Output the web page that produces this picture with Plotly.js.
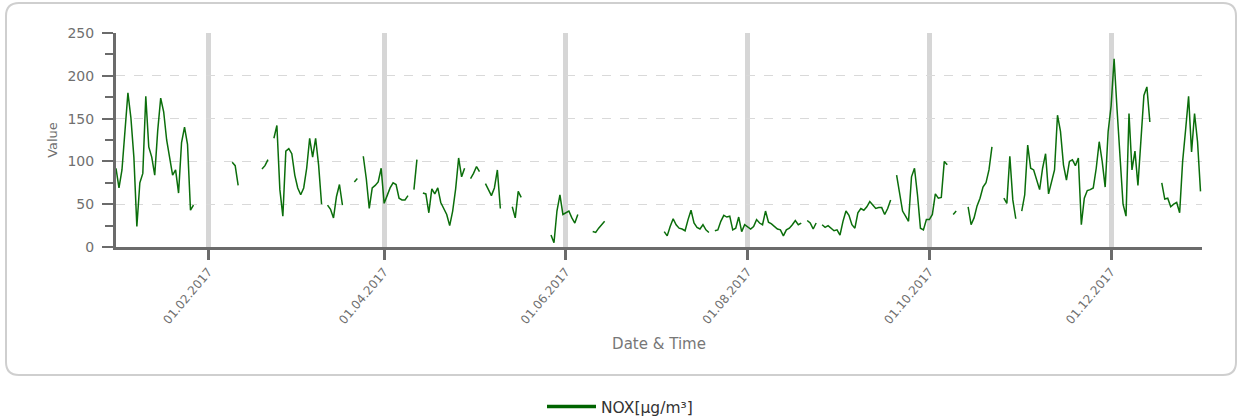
<!DOCTYPE html>
<html>
<head>
<meta charset="utf-8">
<script src="https://cdn.plot.ly/plotly-3.0.1.min.js"></script>
<style>
  html, body { margin: 0; padding: 0; background: #ffffff; }
  #chart { width: 1239px; height: 419px; }
</style>
</head>
<body>
<div id="chart"></div>
<script>
// Daily NOX averages for 2017, one array per month (null = no measurement that day)
const jan = [92, 69, 90, 140, 180, 151, 105, 24, 75, 86, 176, 117, 105, 84, 136, 174, 158, 125, 104, 84, 90, 63, 122, 140, 120, 43, 49, null, null, null, null];
const feb = [null, null, null, null, null, null, null, null, 99, 95, 72, null, null, null, null, null, null, null, 91, 95, 102, null, 127, 142, 67, 36, 112, 115];
const mar = [109, 84, 69, 61, 69, 92, 127, 105, 127, 96, 50, null, 49, 44, 34, 59, 73, 49, null, null, null, 76, 80, null, 106, 80, 45, 69, 72, 76, 92];
const apr = [51, 60, 69, 75, 73, 57, 55, 55, 60, null, 67, 102, null, 63, 62, 40, 68, 62, 69, 52, 45, 38, 25, 42, 68, 104, 82, 92, null, 80];
const may = [86, 94, 88, null, 74, 67, 60, 69, 90, 45, null, null, null, 47, 34, 65, 58, null, null, null, null, null, null, null, null, null, 14, 5, 42, 61, 38];
const jun = [40, 42, 34, 28, 38, null, null, null, null, 18, 17, 22, 26, 30, null, null, null, null, null, null, null, null, null, null, null, null, null, null, null, null];
const jul = [null, null, null, 18, 13, 24, 33, 26, 22, 21, 19, 32, 43, 28, 23, 21, 26, 20, 17, null, 19, 20, 30, 37, 35, 36, 20, 22, 35, 18, 26];
const aug = [24, 21, 24, 32, 28, 26, 42, 29, 27, 24, 21, 20, 13, 20, 22, 26, 31, 26, 28, null, 31, 28, 21, 28, null, 26, 23, 25, 22, 19, 20];
const sep = [14, 30, 42, 37, 26, 22, 40, 45, 43, 47, 53, 49, 45, 46, 46, 38, 45, 55, null, 84, 65, 42, 36, 30, 82, 92, 61, 22, 20, 32];
const oct = [32, 38, 62, 57, 58, 100, 96, null, 38, 42, null, null, null, 47, 26, 34, 48, 57, 70, 75, 90, 117, null, null, null, 57, 51, 106, 55, 33, null];
const nov = [42, 61, 119, 92, 90, 78, 67, 92, 109, 62, 78, 90, 154, 135, 96, 78, 100, 102, 95, 104, 26, 57, 66, 67, 69, 92, 123, 100, 70, 135];
const dec = [165, 220, 160, 100, 50, 36, 156, 90, 112, 72, 131, 177, 187, 146, null, null, null, 75, 56, 57, 47, 50, 52, 40, 100, 137, 176, 111, 156, 123, 65];

const monthly = [jan, feb, mar, apr, may, jun, jul, aug, sep, oct, nov, dec];
const seriesName = 'NOX[µg/m³]';
const xTitle = 'Date & Time';
const yTitle = 'Value';

const pad = n => String(n).padStart(2, '0');
const dates = [];
const values = [];
monthly.forEach((days, m) => {
  days.forEach((v, i) => {
    dates.push(`2017-${pad(m + 1)}-${pad(i + 1)}`);
    values.push(v);
  });
});

const lineColor = '#0b6e0b';
const axisColor = '#6b6b6b';
const textColor = '#6f6f6f';

// plot area geometry (pixels)
const W = 1239, H = 419;
const M = { l: 116, r: 37, t: 33, b: 172 };
const plotW = W - M.l - M.r;
const plotH = H - M.t - M.b;
const PX = px => (px - M.l) / plotW;
const PY = py => (H - M.b - py) / plotH;

// rounded outer frame around the chart
function roundedFrame(L, T, R, B, r) {
  return `M ${PX(L + r)},${PY(T)} L ${PX(R - r)},${PY(T)} ` +
    `Q ${PX(R)},${PY(T)} ${PX(R)},${PY(T + r)} L ${PX(R)},${PY(B - r)} ` +
    `Q ${PX(R)},${PY(B)} ${PX(R - r)},${PY(B)} L ${PX(L + r)},${PY(B)} ` +
    `Q ${PX(L)},${PY(B)} ${PX(L)},${PY(B - r)} L ${PX(L)},${PY(T + r)} ` +
    `Q ${PX(L)},${PY(T)} ${PX(L + r)},${PY(T)} Z`;
}

const traces = [
  {
    x: dates,
    y: values,
    type: 'scatter',
    mode: 'lines',
    line: { color: lineColor, width: 1.5 },
    connectgaps: false,
    showlegend: false,
    legendgroup: 'nox',
    name: seriesName
  },
  {
    x: [null],
    y: [null],
    type: 'scatter',
    mode: 'lines',
    line: { color: '#006400', width: 3.5 },
    showlegend: true,
    legendgroup: 'nox',
    name: seriesName
  }
];

const layout = {
  width: W,
  height: H,
  margin: M,
  paper_bgcolor: '#ffffff',
  plot_bgcolor: '#ffffff',
  font: { family: 'DejaVu Sans, sans-serif', color: textColor },
  showlegend: true,
  legend: {
    orientation: 'h',
    xref: 'container', yref: 'container',
    x: 542 / W, xanchor: 'left',
    y: 1 - 407 / H, yanchor: 'middle',
    itemwidth: 49,
    font: { size: 15.5, color: '#333333', family: 'DejaVu Sans, sans-serif' },
    bgcolor: 'rgba(0,0,0,0)'
  },
  xaxis: {
    type: 'date',
    range: ['2017-01-01', '2017-12-31 12:00'],
    tick0: '2017-02-01',
    dtick: 'M2',
    tickformat: '%d.%m.%Y',
    tickangle: -50,
    tickfont: { size: 12, color: textColor },
    ticks: 'outside',
    ticklen: 10,
    tickwidth: 3,
    tickcolor: axisColor,
    showline: true,
    linecolor: axisColor,
    linewidth: 3,
    showgrid: true,
    gridcolor: '#d6d6d6',
    gridwidth: 5,
    zeroline: false,
    title: { text: xTitle, font: { size: 15, color: '#777777' }, standoff: 13 }
  },
  yaxis: {
    range: [0, 250],
    tick0: 0,
    dtick: 50,
    ticks: 'outside',
    ticklen: 11,
    tickwidth: 2,
    tickcolor: axisColor,
    tickfont: { size: 14, color: textColor },
    ticklabelstandoff: 5,
    minor: { dtick: 25, ticks: 'outside', ticklen: 8, tickwidth: 2, tickcolor: axisColor, showgrid: false },
    showline: true,
    linecolor: axisColor,
    linewidth: 3,
    showgrid: true,
    gridcolor: '#d9d9d9',
    gridwidth: 1,
    griddash: 'dash',
    zeroline: false,
    title: { text: yTitle, font: { size: 13, color: textColor }, standoff: 7 }
  },
  shapes: [
    {
      type: 'path',
      xref: 'paper', yref: 'paper',
      path: roundedFrame(6, 3, 1236, 375, 13),
      line: { color: '#cfcfcf', width: 2 },
      fillcolor: 'rgba(0,0,0,0)',
      layer: 'below'
    }
  ]
};

Plotly.newPlot('chart', traces, layout, { staticPlot: true, displayModeBar: false });
</script>
</body>
</html>
